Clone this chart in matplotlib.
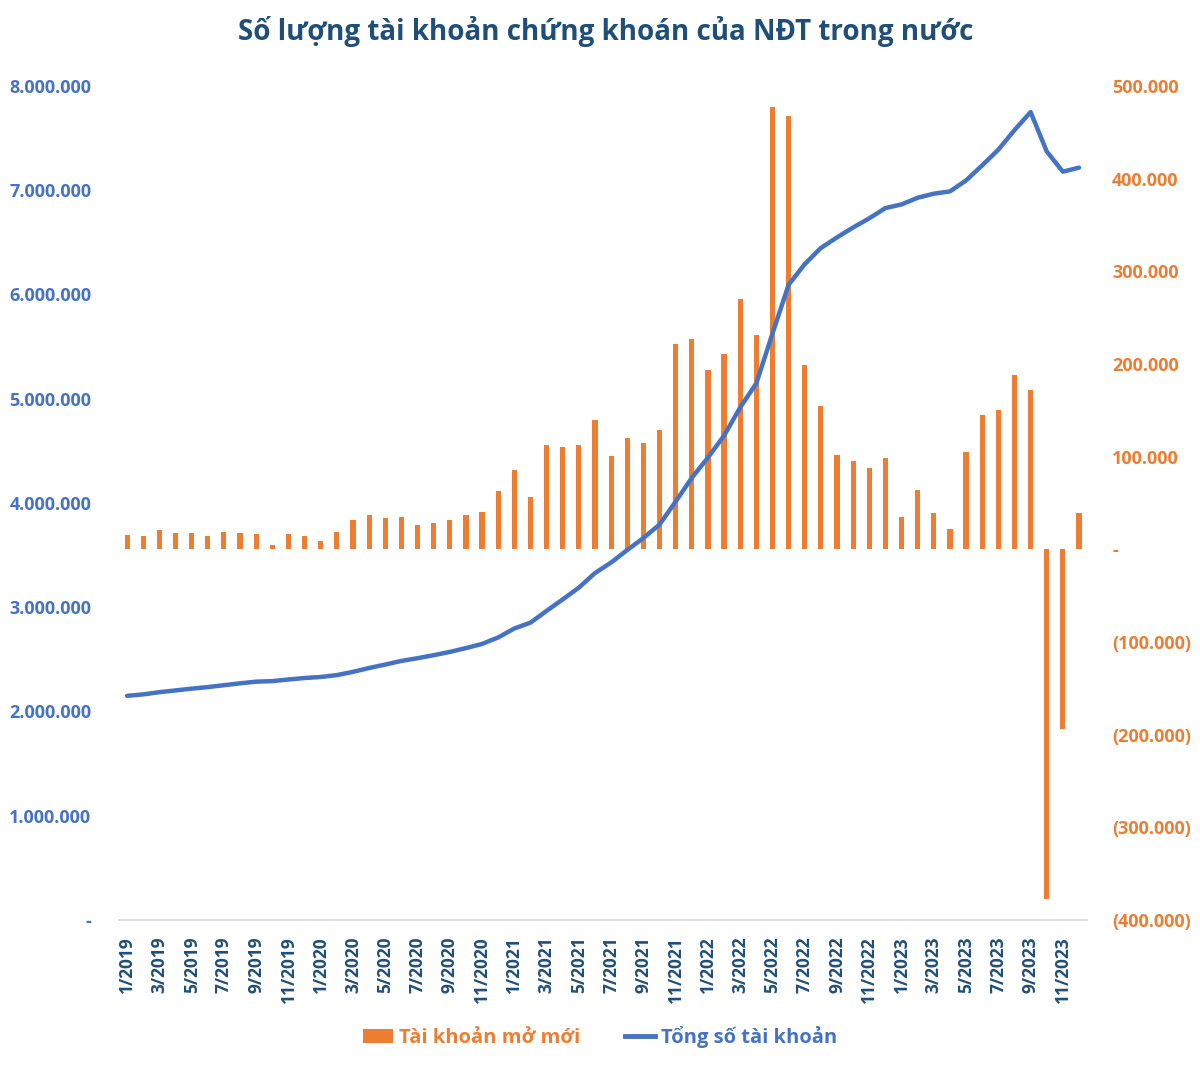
import matplotlib
matplotlib.use("Agg")
import matplotlib.pyplot as plt
from matplotlib.lines import Line2D
from matplotlib.patches import Patch
from matplotlib.ticker import FuncFormatter, FixedLocator

plt.rcParams['font.family'] = ['Open Sans', 'DejaVu Sans']

# monthly data 1/2019 .. 12/2023
months = [f"{m}/{y}" for y in range(2019, 2024) for m in range(1, 13)]

new_accounts = [
    15500, 14400, 21300, 17300, 17300, 14400, 18400, 17300, 16200, 4700, 16200, 14400,
    9400, 18400, 31400, 36500, 33500, 34600, 26300, 28500, 31400, 36500, 40400, 62400,
    85500, 56300, 112900, 110000, 112900, 140000, 101000, 120100, 114700, 129100, 221100, 226500,
    194000, 211000, 270600, 231600, 477300, 467500, 198400, 155100, 101300, 95600, 87700, 98500,
    35000, 63500, 39300, 22000, 104600, 145000, 150100, 188300, 172400, -377700, -193700, 39300,
]

total_accounts = [
    2150000, 2164000, 2185000, 2202000, 2219000, 2234000, 2252000, 2270000, 2286000, 2291000, 2307000, 2321000,
    2331000, 2349000, 2380000, 2417000, 2450000, 2485000, 2511000, 2540000, 2571000, 2608000, 2648000, 2710000,
    2796000, 2852000, 2965000, 3075000, 3188000, 3328000, 3429000, 3549000, 3664000, 3793000, 4014000, 4241000,
    4435000, 4646000, 4917000, 5148000, 5625000, 6093000, 6291000, 6446000, 6548000, 6643000, 6731000, 6829000,
    6864000, 6928000, 6967000, 6989000, 7094000, 7239000, 7389000, 7577000, 7750000, 7372000, 7178000, 7217000,
]

BLUE = "#4472C4"
ORANGE = "#ED7D31"
NAVY = "#1F4E79"


def dots(v):
    return f"{abs(int(v)):,}".replace(",", ".")


def left_fmt(v, pos):
    return "-" if v == 0 else dots(v)


def right_fmt(v, pos):
    if v == 0:
        return "-"
    return f"({dots(v)})" if v < 0 else dots(v)


fig = plt.figure(figsize=(12, 10.67), dpi=100)
ax = fig.add_axes([0.0992, 0.1378, 0.8067, 0.7816])
ax2 = ax.twinx()

x = list(range(len(months)))
ax2.bar(x, new_accounts, width=0.32, color=ORANGE, zorder=2)
ax.plot(x, total_accounts, color=BLUE, linewidth=3.2, solid_joinstyle="round",
        solid_capstyle="round", zorder=3)

# line above the bars
ax.set_zorder(ax2.get_zorder() + 1)
ax.patch.set_visible(False)

ax.set_xlim(-0.5, len(months) - 0.5)
ax.set_ylim(0, 8000000)
ax2.set_ylim(-400000, 500000)

ax.yaxis.set_major_locator(FixedLocator(range(0, 8000001, 1000000)))
ax2.yaxis.set_major_locator(FixedLocator(range(-400000, 500001, 100000)))
ax.yaxis.set_major_formatter(FuncFormatter(left_fmt))
ax2.yaxis.set_major_formatter(FuncFormatter(right_fmt))

ax.set_xticks(x[::2])
ax.set_xticklabels(months[::2], rotation=90, fontsize=12.5, fontweight="bold", color=NAVY)

for t in ax.get_yticklabels():
    t.set_fontsize(13)
    t.set_fontweight("bold")
    t.set_color(BLUE)
for t in ax2.get_yticklabels():
    t.set_fontsize(13)
    t.set_fontweight("bold")
    t.set_color(ORANGE)

ax.tick_params(axis="x", length=0, pad=12)
ax.tick_params(axis="y", length=0, pad=20)
ax2.tick_params(axis="y", length=0, pad=18)

for a in (ax, ax2):
    for s in ("top", "left", "right"):
        a.spines[s].set_visible(False)
ax2.spines["bottom"].set_visible(False)
ax.spines["bottom"].set_color("#D9D9D9")
ax.spines["bottom"].set_linewidth(1.2)

fig.suptitle("Số lượng tài khoản chứng khoán của NĐT trong nước", x=0.505, y=0.985,
             fontsize=20, fontweight="bold", color=NAVY)

handles = [Patch(facecolor=ORANGE, edgecolor="none"),
           Line2D([0], [0], color=BLUE, linewidth=3.5)]
leg = fig.legend(handles, ["Tài khoản mở mới", "Tổng số tài khoản"], loc="center",
                 bbox_to_anchor=(0.5, 0.028), ncol=2, frameon=False,
                 prop={"size": 14.5, "weight": "bold"}, handlelength=1.5,
                 handleheight=0.7, columnspacing=2.2, handletextpad=0.3)
leg.get_texts()[0].set_color(ORANGE)
leg.get_texts()[1].set_color(BLUE)

fig.savefig("out.png", dpi=100)
